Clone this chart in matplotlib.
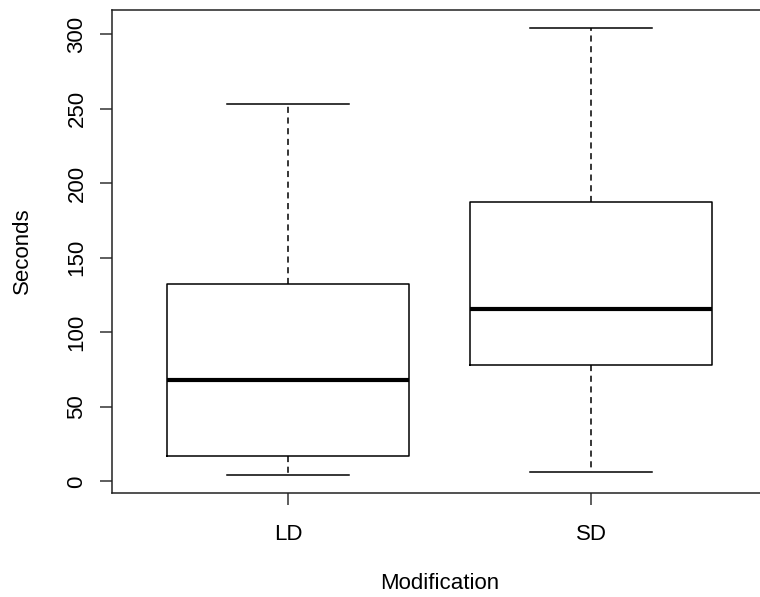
import matplotlib
matplotlib.use("Agg")
from matplotlib import pyplot as plt

plt.rcParams['font.family'] = ['Liberation Sans', 'DejaVu Sans']

groups = ['LD', 'SD']
whislo = [4.5, 6.3]
q1 = [16.8, 78.2]
med = [67.8, 115.8]
q3 = [132.6, 187.6]
whishi = [253.0, 304.5]

stats = []
for i in range(len(groups)):
	stats.append({'label': groups[i], 'whislo': whislo[i], 'q1': q1[i],
		'med': med[i], 'q3': q3[i], 'whishi': whishi[i], 'fliers': []})

fig = plt.figure(figsize=(7.6, 5.97), dpi=100)
ax = fig.add_axes([112/760, 104.4/597, 655/760, 482.9/597])

ax.bxp(stats, positions=[1, 2], widths=0.8, showfliers=False,
	boxprops=dict(color='black', lw=1.1),
	medianprops=dict(color='black', lw=3.0, solid_capstyle='butt'),
	whiskerprops=dict(color='black', lw=1.1, linestyle=(0, (4, 3))),
	capprops=dict(color='black', lw=1.1), capwidths=0.4)

lo = min(whislo)
hi = max(whishi)
pad = (hi - lo) * 0.04
ax.set_ylim(lo - pad, hi + pad)
ax.set_xlim(0.42, 2.58)

ax.set_yticks([0, 50, 100, 150, 200, 250, 300])
ax.set_xticks([1, 2])
ax.set_xticklabels(groups)
for lab in ax.get_yticklabels():
	lab.set_rotation(90)
	lab.set_va('center')
ax.tick_params(axis='both', labelsize=16, length=8.6, width=1.1, color='#333333')
ax.tick_params(axis='y', pad=9)
ax.tick_params(axis='x', pad=14)

for s in ax.spines.values():
	s.set_linewidth(1.1)
	s.set_color('#222222')

ax.set_xlabel('Modification', fontsize=16, labelpad=20)
ax.set_ylabel('Seconds', fontsize=16, labelpad=24)

fig.savefig('out.png', dpi=100)
